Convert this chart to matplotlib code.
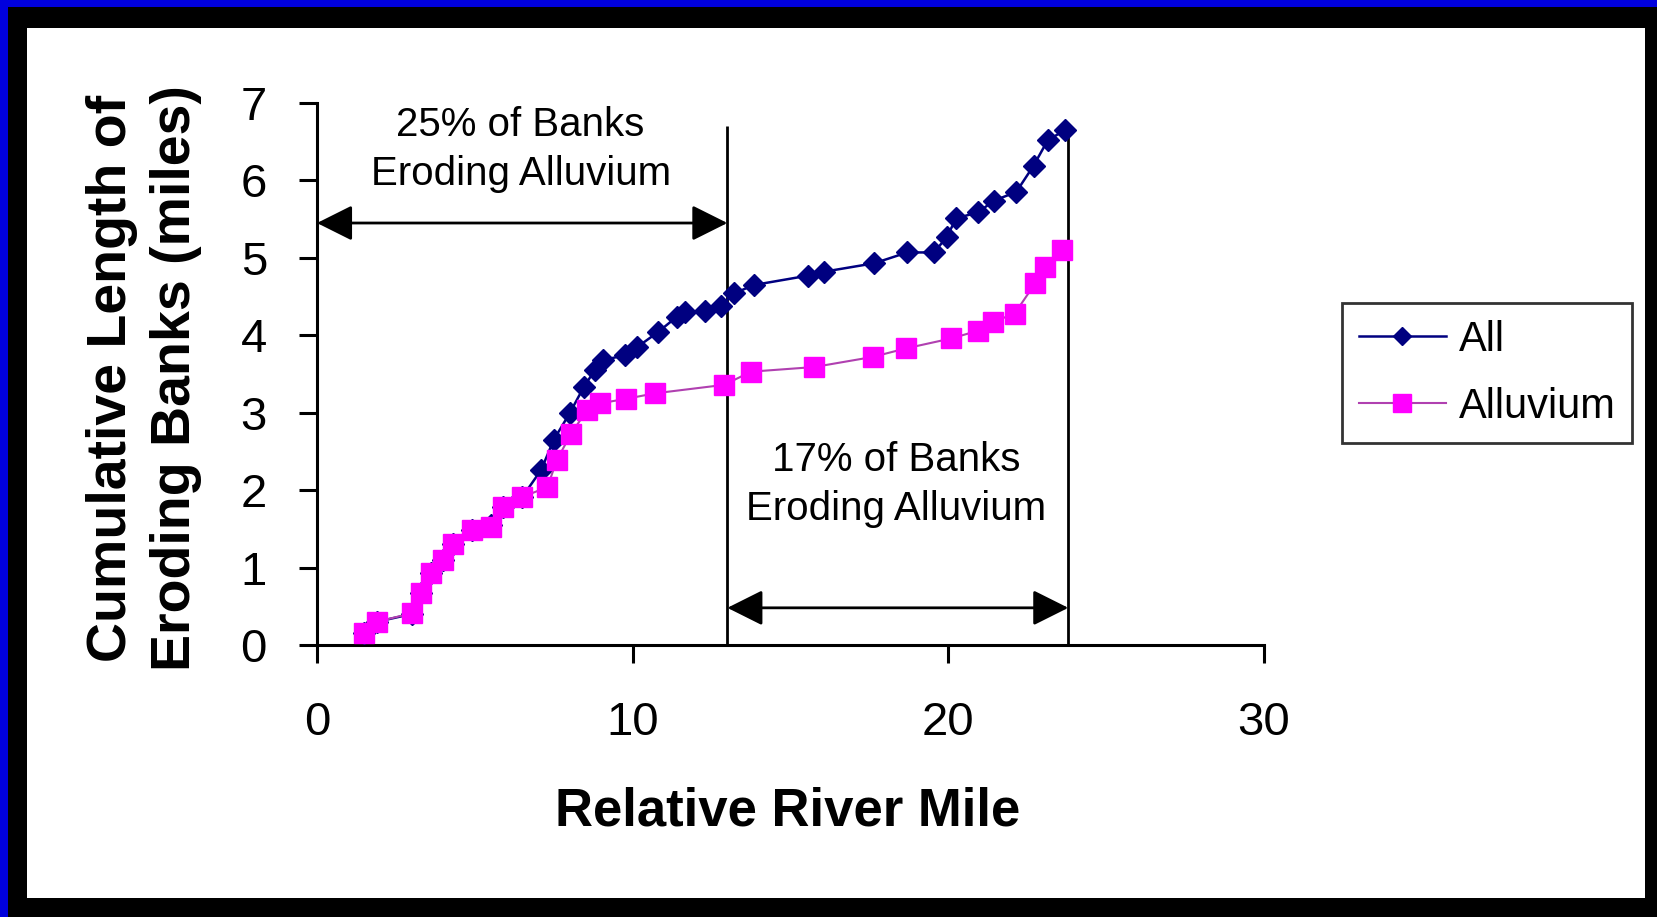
import numpy as np
import matplotlib
matplotlib.use('Agg')
import matplotlib.pyplot as plt
from matplotlib.patches import Rectangle

plt.rcParams['font.family'] = ['Liberation Sans', 'DejaVu Sans']

# cumulative length of eroding banks vs relative river mile
mile_all = [1.5, 1.9, 3.0, 3.3, 3.6, 4.0, 4.3, 4.9, 5.5, 5.9, 6.5, 7.1, 7.5, 8.0,
            8.45, 8.8, 9.05, 9.75, 10.15, 10.8, 11.4, 11.65, 12.3, 12.8, 13.2,
            13.85, 15.55, 16.05, 17.65, 18.7, 19.55, 19.95, 20.25, 20.95, 21.45,
            22.15, 22.7, 23.15, 23.7]
len_all = [0.15, 0.3, 0.4, 0.67, 0.93, 1.1, 1.31, 1.48, 1.55, 1.78, 1.91, 2.26,
           2.65, 2.99, 3.33, 3.55, 3.68, 3.74, 3.85, 4.04, 4.24, 4.30, 4.32, 4.38,
           4.54, 4.65, 4.77, 4.82, 4.93, 5.07, 5.07, 5.27, 5.51, 5.59, 5.74, 5.85,
           6.19, 6.52, 6.65]

mile_alluv = [1.5, 1.9, 3.0, 3.3, 3.6, 4.0, 4.3, 4.9, 5.5, 5.9, 6.5, 7.3, 7.6,
              8.05, 8.55, 8.95, 9.8, 10.7, 12.9, 13.75, 15.75, 17.6, 18.65, 20.1,
              20.95, 21.4, 22.1, 22.75, 23.05, 23.6]
len_alluv = [0.15, 0.3, 0.41, 0.67, 0.93, 1.1, 1.31, 1.48, 1.53, 1.78, 1.91, 2.04,
             2.39, 2.73, 3.03, 3.12, 3.18, 3.25, 3.36, 3.53, 3.59, 3.72, 3.83, 3.96,
             4.06, 4.17, 4.28, 4.67, 4.88, 5.10]

split_mile = 13.0
end_mile = 23.8
note_1 = '25% of Banks\nEroding Alluvium'
note_2 = '17% of Banks\nEroding Alluvium'

W, H = 1658, 917
fig = plt.figure(figsize=(W / 100, H / 100), dpi=100, facecolor='black')

# frame: blue edge, black border, white panel
fig.patches.append(Rectangle((0, 1 - 7 / H), 1, 7 / H, transform=fig.transFigure,
                             facecolor='#0000dd', edgecolor='none', zorder=-2))
fig.patches.append(Rectangle((0, 0), 8 / W, 1, transform=fig.transFigure,
                             facecolor='#0000dd', edgecolor='none', zorder=-2))
fig.patches.append(Rectangle((27 / W, 1 - 898 / H), (1645 - 27) / W, (898 - 28) / H,
                             transform=fig.transFigure, facecolor='white',
                             edgecolor='none', zorder=-1))

ax = fig.add_axes([317 / W, 1 - 645 / H, (1264 - 317) / W, (645 - 103) / H])
ax.set_facecolor('none')

ax.plot(mile_all, len_all, color='#000080', lw=1.8, marker='D', ms=11,
        mec='#000080', mfc='#000080', label='All', zorder=3)
ax.plot(mile_alluv, len_alluv, color='#b040b0', lw=1.5, marker='s', ms=15,
        mec='#ff00ff', mfc='#ff00ff', label='Alluvium', zorder=4)

ax.vlines([split_mile, end_mile], 0, 6.7, color='black', lw=2, zorder=2)

arrow = dict(arrowstyle='<|-|>,head_length=1.1,head_width=0.55', color='black',
             lw=2, shrinkA=0, shrinkB=0, mutation_scale=20)
ax.annotate('', xy=(split_mile, 5.45), xytext=(0, 5.45), arrowprops=arrow)
ax.annotate('', xy=(end_mile, 0.48), xytext=(split_mile, 0.48), arrowprops=arrow)

ax.text(6.45, 6.4, note_1, ha='center', va='center', fontsize=29, linespacing=1.35)
ax.text(18.35, 2.07, note_2, ha='center', va='center', fontsize=29, linespacing=1.35)

ax.set_xlim(0, 30)
ax.set_ylim(0, 7)
ax.set_xticks([0, 10, 20, 30])
ax.set_yticks(range(8))
for s in ['top', 'right']:
    ax.spines[s].set_visible(False)
for s in ['left', 'bottom']:
    ax.spines[s].set_linewidth(2.2)
ax.tick_params(direction='out', length=13, width=2.2, labelsize=34)
ax.tick_params(axis='x', pad=27)
ax.tick_params(axis='y', pad=23)

fig.text(788 / W, 1 - 812 / H, 'Relative River Mile', ha='center', va='center',
         fontsize=38, fontweight='bold')
fig.text(144 / W, 1 - 378 / H, 'Cumulative Length of\nEroding Banks (miles)',
         ha='center', va='center', rotation=90, fontsize=40, fontweight='bold',
         linespacing=1.3)

leg = ax.legend(loc='upper left', bbox_to_anchor=(1342 / W, 1 - 303 / H),
                bbox_transform=fig.transFigure, borderaxespad=0, fontsize=30,
                frameon=True, fancybox=False, handlelength=2.1, handletextpad=0.3,
                labelspacing=0.65, borderpad=0.4)
leg.get_frame().set_edgecolor('black')
leg.get_frame().set_linewidth(2)
leg.legend_handles[0].set_markersize(9)
leg.legend_handles[1].set_markersize(13)

fig.savefig('out.png', dpi=100, facecolor=fig.get_facecolor())
